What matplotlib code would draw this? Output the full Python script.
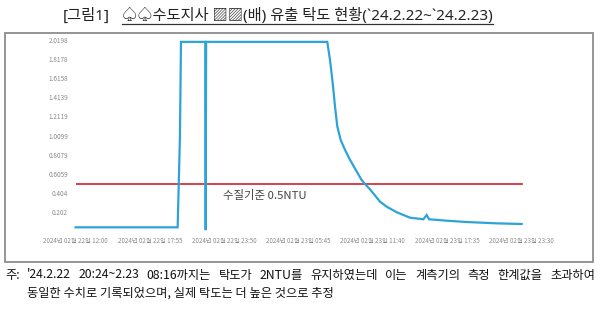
import matplotlib
matplotlib.use("Agg")
import matplotlib.pyplot as plt
import matplotlib.dates as mdates
from matplotlib.patches import Rectangle
from matplotlib.lines import Line2D
import pandas as pd

plt.rcParams['font.family'] = ['Noto Sans CJK KR', 'DejaVu Sans']

# ---- data ----
times = [
    "2024-02-22 12:00", "2024-02-22 20:08", "2024-02-22 20:19", "2024-02-22 20:24",
    "2024-02-22 22:20", "2024-02-22 22:22", "2024-02-22 22:24",
    "2024-02-23 08:03", "2024-02-23 08:16", "2024-02-23 08:29", "2024-02-23 08:40",
    "2024-02-23 08:51", "2024-02-23 09:07", "2024-02-23 09:28", "2024-02-23 09:52",
    "2024-02-23 10:24", "2024-02-23 10:47", "2024-02-23 11:03", "2024-02-23 11:27",
    "2024-02-23 12:15", "2024-02-23 12:47", "2024-02-23 13:35", "2024-02-23 14:38",
    "2024-02-23 15:42", "2024-02-23 15:58", "2024-02-23 16:09", "2024-02-23 17:34",
    "2024-02-23 19:09", "2024-02-23 21:32", "2024-02-23 23:32",
]
turbidity = [
    0.04, 0.04, 1.0, 2.0,
    2.0, 0.01, 2.0,
    2.0, 1.808, 1.562, 1.315,
    1.104, 0.963, 0.857, 0.752,
    0.628, 0.540, 0.498, 0.442,
    0.311, 0.258, 0.199, 0.142,
    0.125, 0.170, 0.125, 0.110,
    0.096, 0.082, 0.075,
]
standard_value = 0.5
standard_label = "수질기준 0.5NTU"

ytick_values = [0.202, 0.404, 0.6059, 0.8079, 1.0099, 1.2119, 1.4139, 1.6158, 1.8178, 2.0198]
ytick_labels = ["0.202", "0.404", "0.6059", "0.8079", "1.0099", "1.2119", "1.4139", "1.6158", "1.8178", "2.0198"]
xtick_times = ["2024-02-22 12:00", "2024-02-22 17:55", "2024-02-22 23:50", "2024-02-23 05:45",
               "2024-02-23 11:40", "2024-02-23 17:35", "2024-02-23 23:30"]
xtick_labels = ["2024년 02월 22일 12:00", "2024년 02월 22일 17:55", "2024년 02월 22일 23:50",
                "2024년 02월 23일 05:45", "2024년 02월 23일 11:40", "2024년 02월 23일 17:35",
                "2024년 02월 23일 23:30"]

title_left = "[그림1]"
title_right = "♤♤수도지사 ▨▨(배) 유출 탁도 현황(`24.2.22~`24.2.23)"
note_line1 = "주: '24.2.22 20:24~2.23 08:16까지는 탁도가 2NTU를 유지하였는데 이는 계측기의 측정 한계값을 초과하여"
note_line2 = "동일한 수치로 기록되었으며, 실제 탁도는 더 높은 것으로 추정"

# ---- figure ----
W, H = 600, 327
fig = plt.figure(figsize=(W / 100, H / 100), dpi=100)

def fx(px):
    return px / W

def fy(py):
    return 1 - py / H

t = pd.to_datetime(times)
xt = pd.to_datetime(xtick_times)

# frame around the chart
fig.add_artist(Rectangle((fx(5), fy(262)), fx(593) - fx(5), fy(33) - fy(262),
                         transform=fig.transFigure, fill=False, edgecolor="#8c8c8c", lw=1.3))

ax_left, ax_right = 75.5, 560
ax_top, ax_bottom = 40, 231.1
ax = fig.add_axes([fx(ax_left), fy(ax_bottom), fx(ax_right) - fx(ax_left), fy(ax_top) - fy(ax_bottom)])
ax.patch.set_alpha(0)

px_per_min = 0.2093
x0 = pd.Timestamp("2024-02-22 12:00")
x1 = x0 + pd.Timedelta(minutes=(ax_right - ax_left) / px_per_min)
ax.set_xlim(x0, x1)
ax.set_ylim(0, 2.0198)

ax.plot([t[0], t[-1]], [standard_value, standard_value], color="#d8323a", lw=1.3, zorder=2)
ax.plot(t, turbidity, color="#2ea3d8", lw=1.6, zorder=3, clip_on=False, solid_joinstyle="miter")

for s in ax.spines.values():
    s.set_visible(False)
ax.set_yticks(ytick_values)
ax.set_yticklabels(ytick_labels)
ax.set_xticks(xt)
ax.set_xticklabels(xtick_labels)
ax.tick_params(axis='y', length=0, pad=5.4, labelsize=4.6, labelcolor="#8a8a8a")
ax.tick_params(axis='x', length=0, pad=4.0, labelsize=4.5, labelcolor="#8a8a8a")

fig.text(fx(222.7), fy(195), standard_label, fontsize=8.2, color="#444444",
         ha="left", va="center")

# title
title_family = ['Noto Sans', 'Noto Sans CJK KR', 'DejaVu Sans']
tl = fig.text(fx(110), fy(16), title_left, fontsize=11, color="#222222", ha="right", va="center",
              family=title_family)
tr = fig.text(fx(122), fy(16), title_right, fontsize=11, color="#222222", ha="left", va="center",
              family=title_family)
fig.canvas.draw()
renderer = fig.canvas.get_renderer()
bb = tr.get_window_extent(renderer)
fig.add_artist(Line2D([bb.x0 / W, bb.x1 / W], [fy(23.5), fy(23.5)], transform=fig.transFigure,
                      color="#333333", lw=0.9))

# note, line 1 justified between x=5 and x=595
note_fs = 8.8
words = note_line1.split(" ")
objs = [fig.text(0, fy(275), w, fontsize=note_fs, color="#111111", ha="left", va="center")
        for w in words]
fig.canvas.draw()
widths = [o.get_window_extent(renderer).width for o in objs]
left_px, right_px = 5, 595
gap = (right_px - left_px - sum(widths)) / (len(words) - 1)
xpos = left_px
for o, wdt in zip(objs, widths):
    o.set_x(fx(xpos))
    xpos += wdt + gap

fig.text(fx(27), fy(293), note_line2, fontsize=note_fs, color="#111111", ha="left", va="center")

fig.savefig("out.png", dpi=100)
